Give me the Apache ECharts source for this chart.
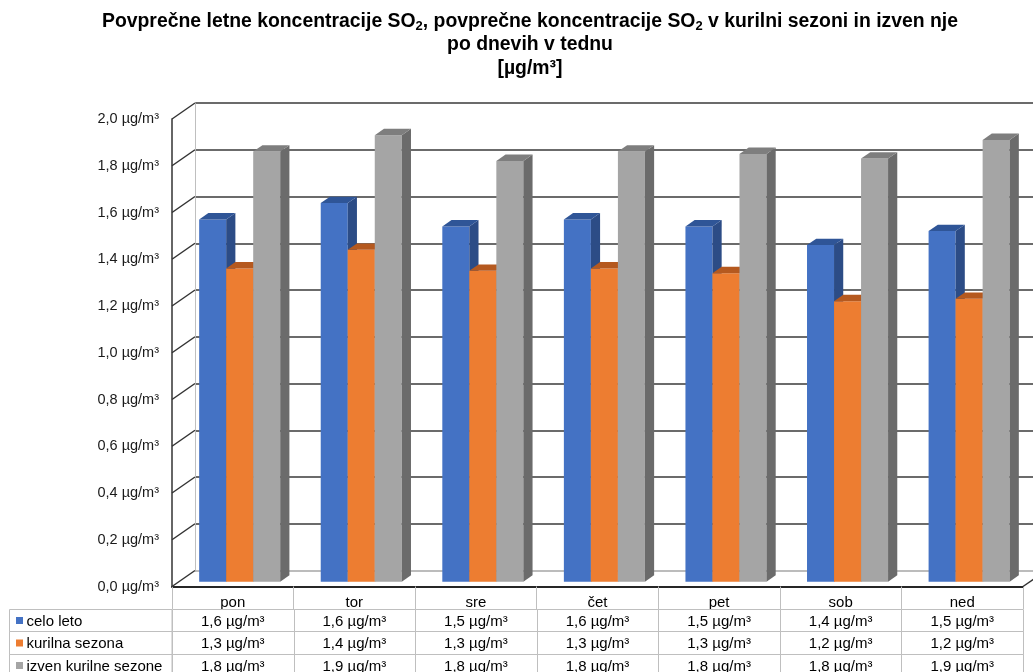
<!DOCTYPE html>
<html>
<head>
<meta charset="utf-8">
<script src="https://cdn.jsdelivr.net/npm/echarts@6/dist/echarts.min.js"></script>
<style>
  html, body { margin: 0; padding: 0; background: #fff; }
  #chart { width: 1033px; height: 672px; }
</style>
</head>
<body>
<div id="chart"></div>
<script>
// Days of the week and mean SO2 concentrations (µg/m³)
const days = ['pon', 'tor', 'sre', 'čet', 'pet', 'sob', 'ned'];
const celoLeto = [1.55, 1.62, 1.52, 1.55, 1.52, 1.44, 1.50];
const kurilnaSezona = [1.34, 1.42, 1.33, 1.34, 1.32, 1.20, 1.21];
const izvenKurilneSezone = [1.84, 1.91, 1.80, 1.84, 1.83, 1.81, 1.89];
const seriesNames = ['celo leto', 'kurilna sezona', 'izven kurilne sezone'];
const yTicks = [0, 0.2, 0.4, 0.6, 0.8, 1.0, 1.2, 1.4, 1.6, 1.8, 2.0];
const unit = 'µg/m³';

const seriesValues = [celoLeto, kurilnaSezona, izvenKurilneSezone];

// Bar face colours: front, right side, top
const palette = [
  { front: '#4472C4', side: '#2C4C86', top: '#2F5597' },
  { front: '#ED7D31', side: '#B05A1F', top: '#B5591F' },
  { front: '#A5A5A5', side: '#6B6B6B', top: '#7E7E7E' }
];

const FONT = '"Liberation Sans", Arial, Helvetica, sans-serif';
// Depth of the 3D box (offset of the back wall from the front plane)
const DX = 23, DY = -16;
// Bars occupy this slice of the depth
const BAR_FRONT = 0.3, BAR_BACK = 0.7;
// Data table rows
const TABLE_TOP = 609, ROW_H = 22.4, TABLE_LEFT = 9.5;

const fmt = v => (Math.round(v * 10 + 1e-9) / 10).toFixed(1).replace('.', ',') + ' ' + unit;

function renderFrame(params, api) {
  const cs = params.coordSys;
  const v = api.value(1);
  const y = api.coord([0, v])[1];
  const line = (x1, y1, x2, y2) => ({
    type: 'line', shape: { x1, y1, x2, y2 },
    style: { stroke: '#333', lineWidth: 1.5 }
  });
  const children = [line(cs.x, y, cs.x + DX, y + DY)];
  if (v === 0) {
    const xr = cs.x + cs.width;
    children.push(line(xr, y, xr + DX, y + DY));
  }
  return { type: 'group', children };
}

function barRenderer(s) {
  const c = palette[s];
  return function (params, api) {
    const i = api.value(0), v = api.value(1);
    const base = api.coord([i, 0]);
    const top = api.coord([i, v]);
    const band = api.size([1, 0])[0];
    const bw = band * 2 / 9;
    const fx = DX * BAR_FRONT, fy = DY * BAR_FRONT;
    const sx = DX * (BAR_BACK - BAR_FRONT), sy = DY * (BAR_BACK - BAR_FRONT);
    const x0 = base[0] - 1.5 * bw + s * bw + fx;
    const x1 = x0 + bw;
    const yb = base[1] + fy, yt = top[1] + fy;
    return {
      type: 'group',
      children: [
        { type: 'polygon', shape: { points: [[x0, yb], [x1, yb], [x1, yt], [x0, yt]] }, style: { fill: c.front } },
        { type: 'polygon', shape: { points: [[x1, yb], [x1 + sx, yb + sy], [x1 + sx, yt + sy], [x1, yt]] }, style: { fill: c.side } },
        { type: 'polygon', shape: { points: [[x0, yt], [x1, yt], [x1 + sx, yt + sy], [x0 + sx, yt + sy]] }, style: { fill: c.top } }
      ]
    };
  };
}

function rowTop(s) { return Math.round(TABLE_TOP + s * ROW_H) + 0.5; }

function renderCell(params, api) {
  const i = api.value(0), s = api.value(1);
  const cx = api.coord([i, 0])[0];
  const band = api.size([1, 0])[0];
  const xl = Math.round(cx - band / 2) + 0.5;
  const xr = Math.round(cx + band / 2) + 0.5;
  const yt = rowTop(s), yb = rowTop(s + 1);
  return {
    type: 'group',
    children: [
      { type: 'rect', shape: { x: xl, y: yt, width: xr - xl, height: yb - yt },
        style: { fill: 'none', stroke: '#BFBFBF', lineWidth: 1 } },
      { type: 'text', style: { text: fmt(seriesValues[s][i]), x: cx, y: (yt + yb) / 2 + 1,
        align: 'center', verticalAlign: 'middle', fontSize: 15, fontFamily: FONT, fill: '#000' } }
    ]
  };
}

const cellData = [];
seriesValues.forEach((arr, s) => arr.forEach((v, i) => cellData.push([i, s])));

// Series key column of the data table
const keyGraphics = [];
seriesNames.forEach((name, s) => {
  const yt = rowTop(s), yb = rowTop(s + 1);
  keyGraphics.push({
    type: 'rect', silent: true,
    shape: { x: TABLE_LEFT, y: yt, width: 172 - TABLE_LEFT, height: yb - yt },
    style: { fill: 'none', stroke: '#BFBFBF', lineWidth: 1 }
  });
  keyGraphics.push({
    type: 'rect', silent: true,
    shape: { x: 16, y: (yt + yb) / 2 - 3.5, width: 7, height: 7 },
    style: { fill: palette[s].front }
  });
  keyGraphics.push({
    type: 'text', silent: true, x: 26.5, y: (yt + yb) / 2 + 1,
    style: { text: name, verticalAlign: 'middle', align: 'left', fontSize: 15, fontFamily: FONT, fill: '#000' }
  });
});

const titleGraphic = {
  type: 'text', silent: true, x: 530, y: 9.5,
  style: {
    text: '{b|Povprečne letne koncentracije SO}{s|2}{b|, povprečne koncentracije SO}{s|2}{b| v kurilni sezoni in izven nje}\n' +
          '{b|po dnevih v tednu}\n{b|[µg/m³]}',
    align: 'center', verticalAlign: 'top',
    rich: {
      b: { fontSize: 19.4, fontWeight: 'bold', fontFamily: FONT, fill: '#000', lineHeight: 23.5 },
      s: { fontSize: 13, fontWeight: 'bold', fontFamily: FONT, fill: '#000', lineHeight: 16, verticalAlign: 'bottom' }
    }
  }
};

const splitColors = ['#A6A6A6'].concat(yTicks.slice(1).map(() => '#3A3A3A'));

const chart = echarts.init(document.getElementById('chart'), null, { renderer: 'canvas' });
chart.setOption({
  animation: false,
  grid: [
    { left: 172, right: 10, top: 119, bottom: 85.5 },
    { left: 172 + DX, right: 10 - DX, top: 119 + DY, bottom: 85.5 - DY }
  ],
  xAxis: [
    {
      gridIndex: 0, type: 'category', data: days, boundaryGap: true,
      axisLine: { lineStyle: { color: '#262626', width: 2 } },
      axisTick: { show: true, length: 22.5, lineStyle: { color: '#BFBFBF' } },
      axisLabel: { color: '#000', fontSize: 15, fontFamily: FONT, margin: 8.5 }
    },
    { gridIndex: 1, type: 'category', data: days, show: false }
  ],
  yAxis: [
    {
      gridIndex: 0, type: 'value', min: 0, max: 2, interval: 0.2,
      axisLine: { show: true, lineStyle: { color: '#333', width: 1.5 } },
      axisTick: { show: false },
      splitLine: { show: false },
      axisLabel: { formatter: v => fmt(v), margin: 13, fontSize: 14.5, fontFamily: FONT, color: '#1a1a1a' }
    },
    {
      gridIndex: 1, type: 'value', min: 0, max: 2, interval: 0.2,
      axisLine: { show: true, lineStyle: { color: '#BFBFBF', width: 1 } },
      axisTick: { show: false },
      axisLabel: { show: false },
      splitLine: { show: true, lineStyle: { color: splitColors, width: 1.5 } }
    }
  ],
  series: [
    {
      type: 'custom', name: 'frame', xAxisIndex: 0, yAxisIndex: 0, silent: true, z: 1,
      data: yTicks.map(v => [0, v]), renderItem: renderFrame
    },
    ...seriesValues.map((arr, s) => ({
      type: 'custom', name: seriesNames[s], xAxisIndex: 0, yAxisIndex: 0, z: 3,
      itemStyle: { color: palette[s].front },
      data: arr.map((v, i) => [i, v]),
      renderItem: barRenderer(s)
    })),
    {
      type: 'custom', name: 'table', xAxisIndex: 0, yAxisIndex: 0, silent: true, z: 2,
      data: cellData, renderItem: renderCell
    }
  ],
  graphic: [titleGraphic, ...keyGraphics]
});
</script>
</body>
</html>
